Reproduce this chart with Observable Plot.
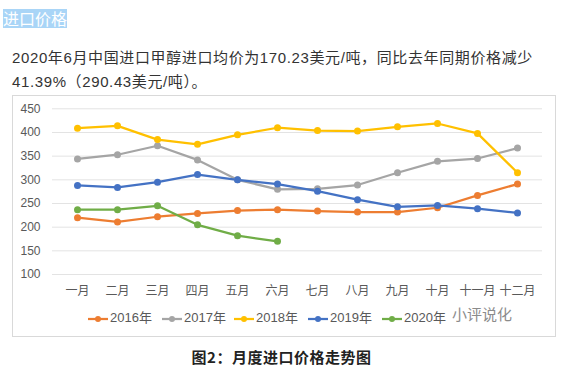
<!DOCTYPE html>
<html><head><meta charset="utf-8">
<script src="https://cdn.jsdelivr.net/npm/d3@7"></script>
<script src="https://cdn.jsdelivr.net/npm/@observablehq/plot@0.6"></script>
<style>
body{margin:0;width:563px;height:369px;background:#fff;position:relative;overflow:hidden;font-family:"Liberation Sans","Noto Sans CJK SC",sans-serif;}
#title{position:absolute;left:3px;top:9px;height:19px;line-height:19px;font-size:16px;color:#fff;background:#a9d5f7;font-family:"Noto Sans CJK SC",sans-serif;}
#para{position:absolute;left:12px;top:46px;width:550px;font-size:15px;line-height:24px;color:#333;letter-spacing:0.62px;white-space:nowrap;}
#frame{position:absolute;left:12px;top:95px;width:542px;height:240px;border:1px solid #d9d9d9;}
#chart{position:absolute;left:12px;top:95px;}
#legend{position:absolute;top:309px;left:0;height:18px;font-size:13px;color:#595959;}
.item{position:absolute;top:0;height:18px;line-height:18px;white-space:nowrap;}
.item svg{vertical-align:middle;margin-right:2px;}
#wm{position:absolute;left:452px;top:303px;font-size:15px;color:#777;opacity:0.85;font-family:"Noto Sans CJK SC",sans-serif;}
#caption{position:absolute;left:0;width:563px;top:346px;text-align:center;font-size:15px;font-weight:bold;color:#222;letter-spacing:0.5px;font-family:"Noto Sans CJK SC",sans-serif;}
</style></head>
<body>
<div id="title">进口价格</div>
<div id="para">2020年6月中国进口甲醇进口均价为170.23美元/吨，同比去年同期价格减少<br>41.39%（290.43美元/吨）。</div>
<div id="frame"></div>
<div id="chart"></div>
<div id="legend"></div>
<div id="wm">小评说化</div>
<div id="caption">图2：月度进口价格走势图</div>
<script>
const months = ["一月","二月","三月","四月","五月","六月","七月","八月","九月","十月","十一月","十二月"];
const years = ["2016年","2017年","2018年","2019年","2020年"];
const colors = ["#ED7D31","#A5A5A5","#FFC000","#4472C4","#70AD47"];
const v2016 = [220,211,222,229,235,237,234,232,232,241,267,291];
const v2017 = [344,353,372,342,300,280,281,289,315,339,345,367];
const v2018 = [409,414,385,375,395,410,404,403,412,419,398,315];
const v2019 = [288,284,295,311,300,291,276,258,243,246,239,230];
const v2020 = [237,237,245,205,182,170];
const yTicks = [100,150,200,250,300,350,400,450];

const series = [v2016,v2017,v2018,v2019,v2020];
const data = [];
series.forEach((vals,i)=>vals.forEach((v,j)=>data.push({year:years[i],month:months[j],value:v})));

const chart = Plot.plot({
  width:543, height:241,
  marginLeft:40, marginRight:13, marginTop:13, marginBottom:62,
  style:{fontFamily:'"Liberation Sans","Noto Sans CJK SC",sans-serif', fontSize:"12px", color:"#595959", background:"transparent"},
  x:{type:"point", domain:months, padding:0.5},
  y:{domain:[100,450], range:[179,13.3]},
  color:{domain:years, range:colors},
  marks:[
    Plot.gridY(yTicks,{stroke:"#e3e3e3", strokeOpacity:1}),
    Plot.axisY(yTicks,{tickSize:0, tickPadding:12, label:null, fill:"#595959"}),
    Plot.axisX({tickSize:0, tickPadding:12, label:null, fill:"#595959", y:100}),
    Plot.line(data,{x:"month", y:"value", z:"year", stroke:"year", strokeWidth:2.25, curve:"linear"}),
    Plot.dot(data,{x:"month", y:"value", fill:"year", r:3.5})
  ]
});
document.getElementById("chart").appendChild(chart);

const lx = [88,162,234,308,382];
const leg = document.getElementById("legend");
years.forEach((y,i)=>{
  const d = document.createElement("div");
  d.className="item";
  d.style.left = lx[i]+"px";
  d.innerHTML = `<svg width="20" height="8"><line x1="0" y1="4" x2="20" y2="4" stroke="${colors[i]}" stroke-width="2.25"/><circle cx="10" cy="4" r="3" fill="${colors[i]}"/></svg>${y}`;
  leg.appendChild(d);
});
</script>
</body></html>
